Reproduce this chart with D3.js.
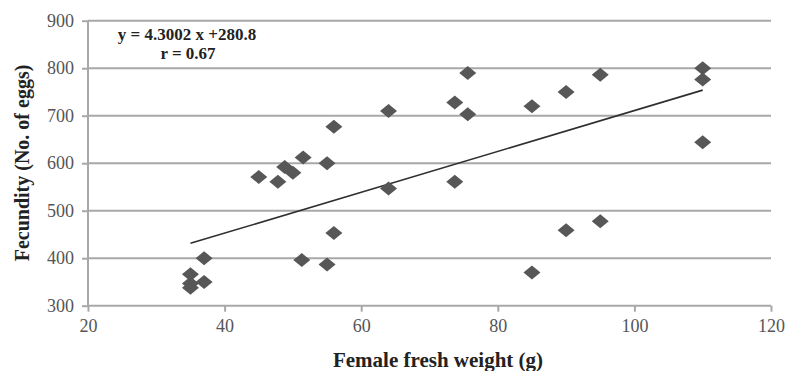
<!DOCTYPE html>
<html>
<head>
<meta charset="utf-8">
<script src="https://cdn.jsdelivr.net/npm/d3@7"></script>
<style>
  html, body { margin: 0; padding: 0; background: #fff; }
  svg { display: block; }
</style>
</head>
<body>
<svg id="chart" width="786" height="371"></svg>
<script>
// ---- data ----
const weight =     [35, 35, 35, 37, 37, 45, 47.8, 48.8, 50, 51.5, 51.3, 55, 55, 56, 56, 64, 64, 73.7, 73.7, 75.6, 75.6, 85, 85, 90, 90, 95, 95, 110, 110, 110];
const fecundity =  [366, 347, 338, 350, 400, 571, 561, 592, 580, 612, 396, 600, 387, 677, 453, 710, 547, 728, 561, 790, 703, 720, 370, 750, 459, 786, 478, 800, 776, 644];
const xTicks = [20, 40, 60, 80, 100, 120];
const yTicks = [300, 400, 500, 600, 700, 800, 900];
const slope = 4.3002, intercept = 280.8;
const trendX = [35, 110];
const equationText = "y = 4.3002 x +280.8";
const rText = "r = 0.67";
const xTitle = "Female fresh weight (g)";
const yTitle = "Fecundity (No. of eggs)";

// ---- layout ----
const svg = d3.select("#chart");
const pLeft = 88, pRight = 771, pTop = 20.7, pBottom = 305.7;
const x = d3.scaleLinear().domain([20, 120]).range([pLeft, pRight]);
const y = d3.scaleLinear().domain([300, 900]).range([pBottom, pTop]);
const serif = "'Liberation Serif', 'Times New Roman', serif";
const gridColor = "#a8a8a8";

// gridlines
svg.append("g").selectAll("line").data(yTicks.filter(d => d > 300)).join("line")
  .attr("x1", pLeft).attr("x2", pRight)
  .attr("y1", d => y(d)).attr("y2", d => y(d))
  .attr("stroke", gridColor).attr("stroke-width", 2);

// y axis
const yAxis = svg.append("g").attr("transform", `translate(${pLeft},0)`)
  .call(d3.axisLeft(y).tickValues(yTicks).tickSize(6).tickPadding(8));
// x axis
const xAxis = svg.append("g").attr("transform", `translate(0,${pBottom})`)
  .call(d3.axisBottom(x).tickValues(xTicks).tickSize(6).tickPadding(8));
[yAxis, xAxis].forEach(ax => {
  ax.select(".domain").attr("stroke", gridColor).attr("stroke-width", 2);
  ax.selectAll(".tick line").attr("stroke", gridColor).attr("stroke-width", 2);
  ax.selectAll(".tick text").attr("fill", "#555").style("font-family", serif).style("font-size", "18px");
});
yAxis.select(".domain").attr("d", `M0,${pTop}V${pBottom}`);
xAxis.select(".domain").attr("d", `M${pLeft},0H${pRight}`);

// trend line
svg.append("path")
  .datum(trendX)
  .attr("d", d3.line().x(d => x(d)).y(d => y(slope * d + intercept)))
  .attr("fill", "none").attr("stroke", "#2e2e2e").attr("stroke-width", 1.6);

// diamonds
const hw = 8.5, hh = 7;
svg.append("g").selectAll("path").data(weight.map((w, i) => [w, fecundity[i]])).join("path")
  .attr("transform", d => `translate(${x(d[0])},${y(d[1])})`)
  .attr("d", `M0,${-hh}L${hw},0L0,${hh}L${-hw},0Z`)
  .attr("fill", "#575757");

// equation
svg.append("text").attr("x", 187).attr("y", 40).attr("text-anchor", "middle")
  .style("font-family", serif).style("font-weight", "bold").style("font-size", "17px")
  .attr("fill", "#222").text(equationText);
svg.append("text").attr("x", 188).attr("y", 59).attr("text-anchor", "middle")
  .style("font-family", serif).style("font-weight", "bold").style("font-size", "17px")
  .attr("fill", "#222").text(rText);

// axis titles
svg.append("text").attr("x", 438).attr("y", 367).attr("text-anchor", "middle")
  .style("font-family", serif).style("font-weight", "bold").style("font-size", "21px")
  .attr("fill", "#222").text(xTitle);
svg.append("text").attr("transform", "translate(29,163) rotate(-90)").attr("text-anchor", "middle")
  .style("font-family", serif).style("font-weight", "bold").style("font-size", "20px")
  .attr("fill", "#222").text(yTitle);
</script>
</body>
</html>
